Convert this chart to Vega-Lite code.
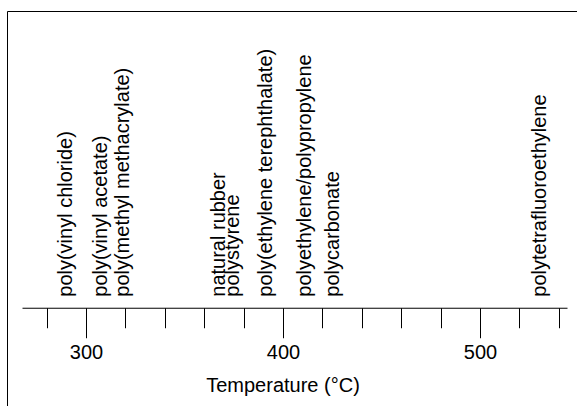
{
  "$schema": "https://vega.github.io/schema/vega-lite/v6.json",
  "width": 570,
  "height": 395,
  "autosize": {"type": "none"},
  "padding": {"left": 7, "top": 11, "right": 0, "bottom": 0},
  "background": "white",
  "config": {"view": {"stroke": "black", "strokeWidth": 1}, "font": "Liberation Sans"},
  "data": {"values": [
    {"polymer": "poly(vinyl chloride)", "temp": 289.8},
    {"polymer": "poly(vinyl acetate)", "temp": 307.6},
    {"polymer": "poly(methyl methacrylate)", "temp": 318.8},
    {"polymer": "natural rubber", "temp": 367.5},
    {"polymer": "polystyrene", "temp": 374.6},
    {"polymer": "poly(ethylene terephthalate)", "temp": 391.4},
    {"polymer": "polyethylene/polypropylene", "temp": 411.2},
    {"polymer": "polycarbonate", "temp": 425.4},
    {"polymer": "polytetrafluoroethylene", "temp": 530.5}
  ]},
  "mark": {"type": "text", "angle": 270, "align": "left", "baseline": "middle", "dx": 11, "fontSize": 20, "font": "Liberation Sans", "color": "black"},
  "encoding": {
    "x": {
      "field": "temp", "type": "quantitative",
      "scale": {"domain": [267.5, 544.2], "range": [15, 560], "nice": false, "zero": false},
      "axis": {
        "title": "Temperature (°C)",
        "orient": "bottom",
        "offset": -98.26,
        "values": [280, 300, 320, 340, 360, 380, 400, 420, 440, 460, 480, 500, 520, 540],
        "labelExpr": "datum.value % 100 === 0 ? datum.label : ''",
        "labelFontSize": 20,
        "labelFont": "Liberation Sans",
        "labelColor": "black",
        "labelPadding": 5,
        "labelOverlap": false,
        "labelFlush": false,
        "tickSize": {"condition": {"test": "datum.value % 100 === 0", "value": 30}, "value": 20},
        "tickColor": "black",
        "tickWidth": 1,
        "domainColor": "black",
        "domainWidth": 1,
        "grid": false,
        "titleFont": "Liberation Sans",
        "titleFontSize": 20,
        "titleFontWeight": "normal",
        "titleColor": "black",
        "titleX": 275.5,
        "titleY": 84,
        "titleBaseline": "alphabetic",
        "titleAlign": "center"
      }
    },
    "y": {"datum": 0, "type": "quantitative", "scale": {"domain": [-1, 3.02]}, "axis": null},
    "text": {"field": "polymer"}
  }
}
